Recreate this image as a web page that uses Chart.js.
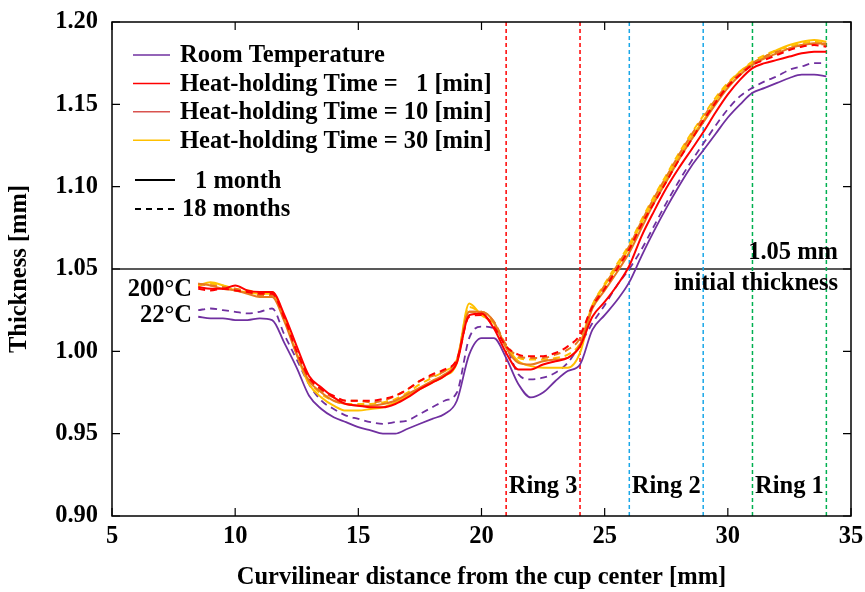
<!DOCTYPE html>
<html>
<head>
<meta charset="utf-8">
<script src="https://cdn.jsdelivr.net/npm/chart.js@4.4.1/dist/chart.umd.min.js"></script>
<style>
  html, body { margin: 0; padding: 0; background: #fff; }
  #wrap { width: 865px; height: 592px; }
</style>
</head>
<body>
<div id="wrap"><canvas id="grafico-espessura" width="865" height="592"></canvas></div>
<script>
// distancia ao longo da taca [mm]
const xs = [8.5, 9, 9.5, 10, 10.5, 11, 11.5, 12, 12.5, 13, 13.5, 14, 14.5, 15, 15.5, 16, 16.5, 17, 17.5, 18, 18.5, 19, 19.5, 20, 20.5, 21, 21.5, 22, 22.5, 23, 23.5, 24, 24.5, 25, 25.5, 26, 26.5, 27, 27.5, 28, 28.5, 29, 29.5, 30, 30.5, 31, 31.5, 32, 32.5, 33, 33.5, 34];

// espessura [mm]
const rtMonth1 = [1.021, 1.020, 1.020, 1.019, 1.019, 1.020, 1.019, 1.005, 0.990, 0.973, 0.965, 0.960, 0.957, 0.954, 0.952, 0.950, 0.950, 0.953, 0.956, 0.959, 0.962, 0.970, 0.998, 1.008, 1.008, 0.996, 0.980, 0.972, 0.975, 0.982, 0.988, 0.992, 1.013, 1.022, 1.031, 1.042, 1.058, 1.073, 1.087, 1.100, 1.112, 1.122, 1.132, 1.142, 1.150, 1.157, 1.160, 1.163, 1.166, 1.168, 1.168, 1.167];
const rtMonth18 = [1.025, 1.026, 1.025, 1.024, 1.023, 1.024, 1.026, 1.010, 0.995, 0.980, 0.970, 0.965, 0.961, 0.959, 0.957, 0.956, 0.957, 0.958, 0.962, 0.966, 0.970, 0.975, 1.008, 1.015, 1.014, 1.003, 0.986, 0.983, 0.984, 0.987, 0.993, 1.004, 1.017, 1.028, 1.040, 1.050, 1.062, 1.076, 1.090, 1.103, 1.115, 1.126, 1.137, 1.147, 1.155, 1.160, 1.164, 1.167, 1.171, 1.173, 1.175, 1.175];
const min1Month1 = [1.039, 1.038, 1.038, 1.040, 1.037, 1.036, 1.036, 1.022, 1.003, 0.985, 0.978, 0.972, 0.968, 0.967, 0.966, 0.966, 0.968, 0.972, 0.977, 0.981, 0.985, 0.993, 1.022, 1.023, 1.014, 0.999, 0.989, 0.989, 0.992, 0.994, 0.996, 1.003, 1.021, 1.030, 1.040, 1.052, 1.070, 1.085, 1.099, 1.111, 1.122, 1.133, 1.145, 1.156, 1.165, 1.172, 1.175, 1.177, 1.179, 1.181, 1.182, 1.182];
const min1Month18 = [1.038, 1.037, 1.038, 1.037, 1.036, 1.035, 1.035, 1.020, 1.000, 0.984, 0.977, 0.973, 0.970, 0.970, 0.970, 0.971, 0.973, 0.977, 0.982, 0.986, 0.989, 0.995, 1.021, 1.022, 1.015, 1.003, 0.998, 0.997, 0.997, 0.999, 1.003, 1.010, 1.027, 1.038, 1.050, 1.062, 1.077, 1.090, 1.103, 1.116, 1.128, 1.140, 1.151, 1.161, 1.168, 1.174, 1.177, 1.180, 1.183, 1.185, 1.186, 1.185];
const min10Month1 = [1.041, 1.040, 1.038, 1.037, 1.035, 1.033, 1.033, 1.018, 0.998, 0.982, 0.975, 0.970, 0.968, 0.967, 0.967, 0.968, 0.970, 0.974, 0.978, 0.982, 0.986, 0.994, 1.024, 1.024, 1.018, 1.002, 0.993, 0.992, 0.994, 0.995, 0.996, 1.004, 1.026, 1.037, 1.048, 1.060, 1.075, 1.090, 1.103, 1.116, 1.128, 1.139, 1.150, 1.160, 1.168, 1.174, 1.178, 1.181, 1.184, 1.186, 1.187, 1.187];
const min10Month18 = [1.041, 1.040, 1.039, 1.038, 1.036, 1.034, 1.034, 1.019, 0.999, 0.983, 0.976, 0.972, 0.970, 0.970, 0.969, 0.970, 0.973, 0.977, 0.982, 0.985, 0.988, 0.995, 1.024, 1.024, 1.018, 1.004, 0.997, 0.996, 0.996, 0.998, 1.001, 1.008, 1.028, 1.040, 1.052, 1.064, 1.079, 1.093, 1.106, 1.119, 1.131, 1.142, 1.153, 1.162, 1.169, 1.175, 1.179, 1.182, 1.184, 1.186, 1.187, 1.186];
const min30Month1 = [1.040, 1.042, 1.040, 1.037, 1.036, 1.035, 1.035, 1.020, 0.998, 0.980, 0.972, 0.967, 0.964, 0.964, 0.965, 0.966, 0.969, 0.973, 0.977, 0.981, 0.985, 0.993, 1.029, 1.022, 1.017, 1.003, 0.994, 0.991, 0.990, 0.990, 0.990, 0.999, 1.027, 1.040, 1.051, 1.063, 1.078, 1.092, 1.105, 1.118, 1.130, 1.140, 1.152, 1.162, 1.170, 1.175, 1.179, 1.183, 1.186, 1.188, 1.189, 1.188];
const min30Month18 = [1.040, 1.041, 1.040, 1.038, 1.037, 1.036, 1.036, 1.020, 0.999, 0.982, 0.974, 0.970, 0.968, 0.968, 0.968, 0.969, 0.971, 0.975, 0.980, 0.984, 0.988, 0.995, 1.027, 1.023, 1.018, 1.003, 0.996, 0.995, 0.995, 0.996, 0.998, 1.005, 1.028, 1.041, 1.053, 1.065, 1.080, 1.094, 1.107, 1.120, 1.132, 1.143, 1.154, 1.163, 1.170, 1.176, 1.180, 1.183, 1.185, 1.187, 1.188, 1.187];

// limites dos aneis e espessura inicial
const ringNames = ['Ring 3', 'Ring 2', 'Ring 1'];
const ringBounds = [[21, 24], [26, 29], [31, 34]];
const ringColors = ['#ff0000', '#1aa7e8', '#00b050'];
const initialThickness = 1.05;

const legendItems = ['Room Temperature', 'Heat-holding Time =   1 [min]', 'Heat-holding Time = 10 [min]', 'Heat-holding Time = 30 [min]'];
const legendColors = ['#7030a0', '#ff0000', '#d9534f', '#ffc000'];

const FONTE = 'bold 24.5px "Liberation Serif", "DejaVu Serif", serif';

function pontos(valores) {
    return xs.map(function (x, i) { return { x: x, y: valores[i] }; });
}

function curva(valores, cor, tracejado, largura) {
    return {
        data: pontos(valores),
        borderColor: cor,
        backgroundColor: 'transparent',
        borderWidth: largura,
        borderDash: tracejado ? [7, 5] : [],
        pointRadius: 0,
        cubicInterpolationMode: 'monotone'
    };
}

const datasets = [
    curva(min1Month1, '#ff0000', false, 2),
    curva(min1Month18, '#ff0000', true, 2),
    curva(min10Month1, '#e8781e', false, 2),
    curva(min10Month18, '#e8781e', true, 2),
    curva(min30Month1, '#ffc000', false, 2),
    curva(min30Month18, '#ffc000', true, 2),
    curva(rtMonth1, '#7030a0', false, 1.8),
    curva(rtMonth18, '#7030a0', true, 1.8)
];

// linhas verticais dos aneis
ringBounds.forEach(function (par, i) {
    par.forEach(function (x) {
        datasets.push({
            data: [{ x: x, y: 0.90 }, { x: x, y: 1.20 }],
            borderColor: ringColors[i],
            borderWidth: 1.5,
            borderDash: [4, 3],
            pointRadius: 0
        });
    });
});

// linha da espessura inicial
datasets.push({
    data: [{ x: 5, y: initialThickness }, { x: 35, y: initialThickness }],
    borderColor: '#222',
    borderWidth: 1.5,
    pointRadius: 0
});

const extras = {
    id: 'extras',
    afterDatasetsDraw(chart) {
        const ctx = chart.ctx;
        const a = chart.chartArea;
        const sx = chart.scales.x;
        const sy = chart.scales.y;
        ctx.save();

        // moldura e ticks para dentro
        ctx.strokeStyle = '#000';
        ctx.lineWidth = 1.5;
        ctx.strokeRect(a.left, a.top, a.right - a.left, a.bottom - a.top);
        ctx.lineWidth = 1.2;
        ctx.beginPath();
        sx.ticks.forEach(function (t) {
            const px = sx.getPixelForValue(t.value);
            ctx.moveTo(px, a.bottom); ctx.lineTo(px, a.bottom - 8);
            ctx.moveTo(px, a.top); ctx.lineTo(px, a.top + 8);
        });
        sy.ticks.forEach(function (t) {
            const py = sy.getPixelForValue(t.value);
            ctx.moveTo(a.left, py); ctx.lineTo(a.left + 8, py);
            ctx.moveTo(a.right, py); ctx.lineTo(a.right - 8, py);
        });
        ctx.stroke();

        ctx.font = FONTE;
        ctx.fillStyle = '#000';
        ctx.textBaseline = 'middle';

        // legenda
        const y0 = a.top + 33;
        legendItems.forEach(function (txt, i) {
            const y = y0 + i * 28.4;
            ctx.strokeStyle = legendColors[i];
            ctx.lineWidth = 1.5;
            ctx.setLineDash([]);
            ctx.beginPath();
            ctx.moveTo(133, y); ctx.lineTo(170, y);
            ctx.stroke();
            ctx.textAlign = 'left';
            ctx.fillText(txt, 180, y + 1);
        });
        ctx.strokeStyle = '#000';
        ctx.lineWidth = 2;
        ctx.beginPath();
        ctx.moveTo(135, 180); ctx.lineTo(175, 180);
        ctx.stroke();
        ctx.setLineDash([6, 5]);
        ctx.beginPath();
        ctx.moveTo(135, 209); ctx.lineTo(177, 209);
        ctx.stroke();
        ctx.setLineDash([]);
        ctx.fillText('1 month', 195, 182);
        ctx.fillText('18 months', 182, 210);

        // textos
        const y105 = sy.getPixelForValue(initialThickness);
        ctx.textAlign = 'right';
        ctx.fillText('1.05 mm', a.right - 13, y105 - 16);
        ctx.fillText('initial thickness', a.right - 13, y105 + 15);
        ctx.fillText('200\u00b0C', 192, 290);
        ctx.fillText('22\u00b0C', 192, 316);

        ctx.textAlign = 'center';
        ringBounds.forEach(function (par, i) {
            const cx = (sx.getPixelForValue(par[0]) + sx.getPixelForValue(par[1])) / 2;
            ctx.fillText(ringNames[i], cx, 487);
        });
        ctx.restore();
    }
};

const fonteEixo = { family: '"Liberation Serif", "DejaVu Serif", serif', size: 24.5, weight: 'bold' };

new Chart(document.getElementById('grafico-espessura'), {
    type: 'line',
    data: { datasets: datasets },
    options: {
        responsive: false,
        animation: false,
        layout: { padding: { top: 22, right: 14, left: 0, bottom: 0 } },
        plugins: {
            legend: { display: false },
            tooltip: { enabled: false }
        },
        scales: {
            x: {
                type: 'linear',
                min: 5,
                max: 35,
                ticks: { stepSize: 5, color: '#000', font: fonteEixo, padding: 6, maxRotation: 0 },
                grid: { display: false, drawTicks: false },
                border: { display: false },
                title: {
                    display: true,
                    text: 'Curvilinear distance from the cup center [mm]',
                    color: '#000',
                    font: fonteEixo,
                    padding: { top: 0, bottom: 0 }
                },
                afterFit(scale) {
                    scale.height = 76;
                    scale.paddingLeft = 0;
                    scale.paddingRight = 0;
                }
            },
            y: {
                min: 0.90,
                max: 1.20,
                ticks: {
                    stepSize: 0.05,
                    color: '#000',
                    font: fonteEixo,
                    padding: 14,
                    callback: function (v) { return v.toFixed(2); }
                },
                grid: { display: false, drawTicks: false },
                border: { display: false },
                title: {
                    display: true,
                    text: 'Thickness [mm]',
                    color: '#000',
                    font: fonteEixo,
                    padding: { top: 5, bottom: 0 }
                },
                afterFit(scale) {
                    scale.width = 112;
                    scale.paddingTop = 0;
                    scale.paddingBottom = 0;
                }
            }
        }
    },
    plugins: [extras]
});
</script>
</body>
</html>
